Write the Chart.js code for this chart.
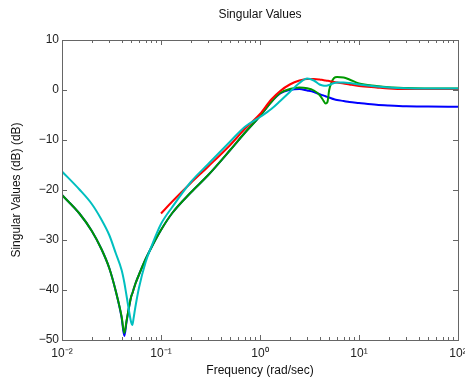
<!DOCTYPE html>
<html>
<head>
<meta charset="utf-8">
<title>Singular Values</title>
<script src="https://cdn.jsdelivr.net/npm/chart.js@4"></script>
<style>
  html, body { margin: 0; padding: 0; background: #fff; }
</style>
</head>
<body>
<canvas id="chart" width="465" height="378"></canvas>
<script>
// frequencies (rad/sec) the curves were read at
const freq = [0.01, 0.015, 0.02, 0.025, 0.03, 0.035, 0.04, 0.0426, 0.045, 0.05,
  0.0513, 0.053, 0.055, 0.06, 0.07, 0.08, 0.1, 0.13, 0.2, 0.3,
  0.5, 0.7, 1, 1.3, 1.6, 2, 2.5, 3, 3.5, 4,
  4.3, 4.6, 4.8, 5, 5.3, 5.6, 6, 7, 8, 10,
  15, 20, 30, 50, 100];

// singular values in dB
const blueDb = [-21.0, -24.7, -28.2, -31.8, -35.6, -40.3, -45.5, -49.2, -46.2, -41.3,
  -40.7, -39.8, -38.8, -36.9, -33.8, -31.5, -28.0, -24.6, -20.5, -17.0,
  -12.0, -8.6, -5.2, -2.4, -0.7, 0.0, 0.2, -0.1, -0.4, -0.85,
  -1.05, -1.25, -1.4, -1.5, -1.7, -1.85, -2.0, -2.2, -2.4, -2.6,
  -2.95, -3.1, -3.25, -3.3, -3.35];
const greenDb = [-21.0, -24.7, -28.2, -31.8, -35.6, -40.3, -45.3, -48.6, -46.0, -41.3,
  -40.7, -39.8, -38.8, -36.9, -33.8, -31.5, -28.0, -24.6, -20.5, -17.0,
  -12.0, -8.6, -5.2, -2.4, -0.6, 0.2, 0.5, 0.35, -0.1, -1.0,
  -1.9, -2.7, -2.4, 0.0, 1.6, 2.4, 2.6, 2.5, 2.1, 1.3,
  0.8, 0.55, 0.4, 0.3, 0.3];
const redDb = [null, null, null, null, null, null, null, null, null, null,
  null, null, null, null, null, null, -24.7, -22.3, -18.6, -15.3,
  -11.0, -7.8, -4.8, -1.9, -0.2, 1.1, 1.9, 2.2, 2.2, 2.1,
  2.0, 1.9, 1.85, 1.8, 1.7, 1.6, 1.5, 1.3, 1.1, 0.8,
  0.5, 0.3, 0.2, 0.2, 0.2];
const cyanDb = [-16.3, -19.9, -22.8, -25.9, -29.0, -32.7, -36.0, -38.5, -41.3, -46.5,
  -47.0, -45.5, -43.5, -39.5, -34.4, -31.3, -26.8, -23.4, -18.4, -14.8,
  -10.3, -7.4, -5.4, -3.8, -2.2, -0.4, 1.4, 2.3, 1.9, 1.1,
  0.9, 0.85, 0.9, 1.0, 1.2, 1.4, 1.5, 1.5, 1.4, 1.1,
  0.7, 0.5, 0.35, 0.3, 0.3];

// axis ticks
const xTicks = [0.01, 0.1, 1, 10, 100];
const xTickLabels = ['10\u207B\u00B2', '10\u207B\u00B9', '10\u2070', '10\u00B9', '10\u00B2'];
const yTicks = [-50, -40, -30, -20, -10, 0, 10];

const toPoints = vals => freq.map((f, i) => ({ x: f, y: vals[i] })).filter(p => p.y !== null);

Chart.defaults.font.family = '"Liberation Sans", Arial, Helvetica, sans-serif';
Chart.defaults.font.size = 12;
Chart.defaults.color = '#111';

// MATLAB style box with inward ticks on all four sides
const frameTicks = {
  id: 'frameTicks',
  afterDatasetsDraw(chart) {
    const { ctx, chartArea: a, scales: { x, y } } = chart;
    ctx.save();
    ctx.strokeStyle = '#666';
    ctx.lineWidth = 1;
    ctx.beginPath();
    yTicks.forEach(v => {
      const py = Math.round(y.getPixelForValue(v)) + 0.5;
      ctx.moveTo(a.left, py); ctx.lineTo(a.left + 5, py);
      ctx.moveTo(a.right, py); ctx.lineTo(a.right - 5, py);
    });
    xTicks.forEach((d, i) => {
      const px = Math.round(x.getPixelForValue(d)) + 0.5;
      ctx.moveTo(px, a.bottom); ctx.lineTo(px, a.bottom - 5);
      ctx.moveTo(px, a.top); ctx.lineTo(px, a.top + 5);
      if (i === xTicks.length - 1) return;
      for (let m = 2; m < 10; m++) {
        const mx = Math.round(x.getPixelForValue(d * m)) + 0.5;
        ctx.moveTo(mx, a.bottom); ctx.lineTo(mx, a.bottom - 3);
        ctx.moveTo(mx, a.top); ctx.lineTo(mx, a.top + 3);
      }
    });
    ctx.stroke();
    ctx.strokeRect(Math.round(a.left) + 0.5, Math.round(a.top) + 0.5,
      Math.round(a.right - a.left), Math.round(a.bottom - a.top));
    ctx.restore();
  }
};

const line = (vals, color) => ({
  data: toPoints(vals),
  borderColor: color,
  borderWidth: 2,
  pointRadius: 0,
  fill: false,
  cubicInterpolationMode: 'monotone'
});

new Chart(document.getElementById('chart'), {
  type: 'line',
  data: {
    // first dataset is drawn on top
    datasets: [
      line(cyanDb, '#00bfbf'),
      line(redDb, '#ff0000'),
      line(greenDb, '#009900'),
      line(blueDb, '#0000ff')
    ]
  },
  options: {
    responsive: false,
    animation: false,
    layout: { padding: { left: 0, right: 7, top: 0, bottom: 0 } },
    plugins: {
      legend: { display: false },
      tooltip: { enabled: false },
      title: {
        display: true,
        text: 'Singular Values',
        fullSize: false,
        color: '#111',
        font: { size: 12, weight: 'normal' },
        padding: { top: 7, bottom: 18.6 }
      }
    },
    scales: {
      x: {
        type: 'logarithmic',
        min: 0.01,
        max: 100,
        afterBuildTicks: s => { s.ticks = xTicks.map(v => ({ value: v })); },
        afterFit: s => { s.height = 38; s.paddingLeft = 0; s.paddingRight = 0; },
        ticks: {
          autoSkip: false,
          maxRotation: 0,
          padding: 6,
          color: '#222',
          callback: (v, i) => xTickLabels[i]
        },
        grid: { display: false, drawTicks: false },
        border: { display: false },
        title: {
          display: true,
          text: 'Frequency (rad/sec)',
          color: '#111',
          padding: { top: 2.8, bottom: 0 }
        }
      },
      y: {
        min: -50,
        max: 10,
        afterBuildTicks: s => { s.ticks = yTicks.map(v => ({ value: v })); },
        afterFit: s => { s.width = 62; },
        ticks: {
          padding: 3,
          color: '#222',
          callback: v => String(v).replace('-', '\u2212')
        },
        grid: { display: false, drawTicks: false },
        border: { display: false },
        title: {
          display: true,
          text: 'Singular Values (dB) (dB)',
          color: '#111',
          padding: { top: 9.8, bottom: 0 }
        }
      }
    }
  },
  plugins: [frameTicks]
});
</script>
</body>
</html>
